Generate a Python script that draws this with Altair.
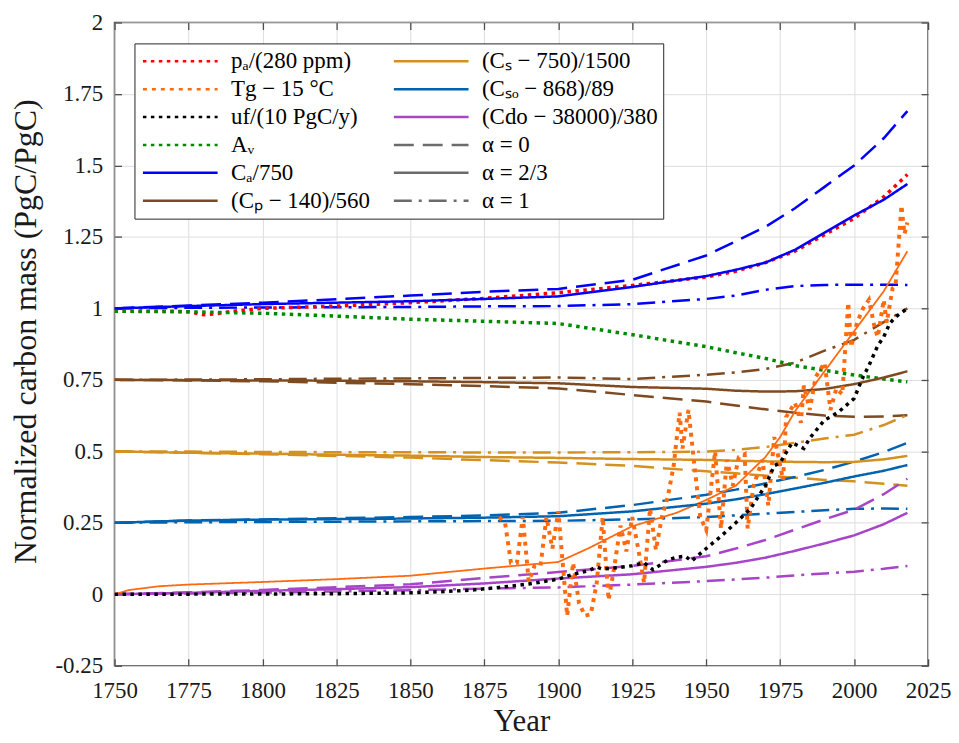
import altair as alt
import pandas as pd

# ---------------- data ----------------
model_years = [1750, 1775, 1800, 1825, 1850, 1875, 1900, 1925, 1950, 1960, 1970, 1980, 1990, 2000, 2010, 2018]

Ca_a0 = [1.0, 1.01, 1.02, 1.032, 1.045, 1.058, 1.068, 1.10, 1.185, 1.235, 1.285, 1.35, 1.425, 1.50, 1.595, 1.69]
Ca_a23 = [1.0, 1.008, 1.015, 1.02, 1.025, 1.033, 1.042, 1.075, 1.113, 1.135, 1.16, 1.205, 1.265, 1.325, 1.38, 1.435]
Ca_a1 = [1.0, 1.002, 1.003, 1.004, 1.005, 1.007, 1.008, 1.015, 1.033, 1.045, 1.065, 1.078, 1.082, 1.083, 1.083, 1.082]
Cp_a0 = [0.75, 0.748, 0.745, 0.74, 0.735, 0.728, 0.72, 0.697, 0.674, 0.66, 0.647, 0.635, 0.625, 0.621, 0.622, 0.626]
Cp_a23 = [0.75, 0.749, 0.748, 0.747, 0.745, 0.742, 0.738, 0.725, 0.719, 0.712, 0.709, 0.71, 0.718, 0.735, 0.758, 0.78]
Cp_a1 = [0.75, 0.751, 0.752, 0.754, 0.755, 0.757, 0.758, 0.753, 0.768, 0.776, 0.788, 0.81, 0.852, 0.89, 0.952, 1.0]
Cs_a0 = [0.5, 0.495, 0.49, 0.484, 0.478, 0.469, 0.461, 0.449, 0.43, 0.423, 0.415, 0.408, 0.40, 0.395, 0.387, 0.38]
Cs_a23 = [0.5, 0.495, 0.492, 0.488, 0.485, 0.48, 0.477, 0.473, 0.47, 0.467, 0.465, 0.463, 0.462, 0.463, 0.472, 0.484]
Cs_a1 = [0.5, 0.499, 0.498, 0.497, 0.497, 0.496, 0.496, 0.497, 0.499, 0.505, 0.515, 0.53, 0.545, 0.558, 0.592, 0.627]
Cso_a0 = [0.25, 0.258, 0.262, 0.266, 0.27, 0.276, 0.285, 0.312, 0.348, 0.366, 0.388, 0.41, 0.435, 0.464, 0.497, 0.53]
Cso_a23 = [0.25, 0.258, 0.261, 0.263, 0.265, 0.268, 0.273, 0.29, 0.317, 0.332, 0.35, 0.37, 0.39, 0.412, 0.432, 0.452]
Cso_a1 = [0.25, 0.252, 0.253, 0.254, 0.255, 0.256, 0.257, 0.262, 0.27, 0.276, 0.282, 0.288, 0.294, 0.299, 0.30, 0.299]
Cdo_a0 = [0.0, 0.007, 0.015, 0.025, 0.035, 0.057, 0.078, 0.099, 0.133, 0.16, 0.19, 0.226, 0.262, 0.296, 0.35, 0.404]
Cdo_a23 = [0.0, 0.005, 0.012, 0.018, 0.025, 0.038, 0.055, 0.07, 0.096, 0.11, 0.128, 0.152, 0.178, 0.206, 0.245, 0.285]
Cdo_a1 = [0.0, 0.003, 0.006, 0.01, 0.014, 0.02, 0.024, 0.034, 0.046, 0.052, 0.058, 0.066, 0.073, 0.079, 0.089, 0.099]

Av_vals = [0.99, 0.988, 0.983, 0.973, 0.962, 0.955, 0.947, 0.908, 0.866, 0.845, 0.825, 0.80, 0.783, 0.767, 0.753, 0.743]

pa_years = [1750, 1770, 1775, 1780, 1785, 1790, 1800, 1825, 1850, 1875, 1900, 1925, 1950, 1960, 1970, 1980, 1990, 2000, 2010, 2018]
pa_vals = [0.99, 0.99, 0.988, 0.978, 0.982, 0.99, 1.0, 1.008, 1.02, 1.035, 1.055, 1.08, 1.11, 1.13, 1.16, 1.2, 1.258, 1.315, 1.39, 1.468]

Tg_smooth_years = [1750, 1755, 1765, 1775, 1800, 1825, 1850, 1875, 1900, 1910, 1925, 1940, 1950, 1960, 1970, 1975, 1980, 1990, 2000, 2010, 2018]
Tg_smooth_vals = [0.0, 0.015, 0.028, 0.034, 0.043, 0.053, 0.065, 0.09, 0.113, 0.16, 0.238, 0.285, 0.33, 0.38, 0.48, 0.55, 0.64, 0.78, 0.92, 1.06, 1.2]

Tg_years = [1880, 1882, 1884, 1886, 1888, 1890, 1892, 1894, 1896, 1898, 1900, 1903, 1905, 1907, 1909, 1911,
            1913, 1915, 1917, 1919, 1921, 1923, 1925, 1927, 1929, 1931, 1933, 1935, 1937, 1939, 1941, 1942,
            1944, 1946, 1948, 1950, 1953, 1955, 1957, 1959, 1961, 1963, 1964, 1966, 1969, 1971, 1973, 1976,
            1977, 1980, 1982, 1983, 1985, 1987, 1990, 1992, 1994, 1996, 1998, 1999, 2001, 2003, 2005, 2007,
            2008, 2010, 2011, 2013, 2014, 2016, 2017, 2018]
Tg_vals = [0.27, 0.25, 0.11, 0.11, 0.27, 0.045, 0.10, 0.10, 0.27, 0.16, 0.29, -0.075, 0.11, -0.03, -0.075, -0.07,
           0.04, 0.27, -0.02, 0.10, 0.24, 0.15, 0.27, 0.16, 0.04, 0.30, 0.155, 0.27, 0.34, 0.45, 0.635, 0.51,
           0.645, 0.45, 0.27, 0.225, 0.50, 0.23, 0.47, 0.38, 0.48, 0.49, 0.23, 0.38, 0.47, 0.31, 0.55, 0.40,
           0.62, 0.67, 0.60, 0.73, 0.645, 0.76, 0.81, 0.645, 0.72, 0.70, 1.02, 0.865, 0.95, 1.0, 1.03, 0.93,
           0.90, 1.03, 0.95, 1.07, 1.08, 1.36, 1.26, 1.30]

uf_years = [1750, 1800, 1825, 1850, 1860, 1870, 1880, 1890, 1900, 1905, 1910, 1913, 1915, 1920, 1925, 1929,
            1932, 1937, 1940, 1943, 1945, 1950, 1955, 1960, 1965, 1970, 1973, 1975, 1979, 1983, 1985, 1990,
            1992, 1995, 2000, 2003, 2005, 2008, 2010, 2012, 2014, 2016, 2018]
uf_vals = [0.0, 0.001, 0.002, 0.005, 0.009, 0.014, 0.024, 0.036, 0.053, 0.07, 0.082, 0.095, 0.088, 0.093, 0.1, 0.11,
           0.086, 0.12, 0.13, 0.133, 0.116, 0.16, 0.203, 0.25, 0.30, 0.38, 0.45, 0.46, 0.53, 0.51, 0.546, 0.61,
           0.62, 0.64, 0.685, 0.76, 0.80, 0.87, 0.90, 0.947, 0.97, 0.985, 1.0]

x_ticks = [1750, 1775, 1800, 1825, 1850, 1875, 1900, 1925, 1950, 1975, 2000, 2025]
y_ticks = [-0.25, 0, 0.25, 0.5, 0.75, 1, 1.25, 1.5, 1.75, 2]

# legend entries (column-major order, 2 columns of 6)
L_pa = "pₐ/(280 ppm)"
L_Tg = "Tg − 15 °C"
L_uf = "uf/(10 PgC/y)"
L_Av = "Aᵥ"
L_Ca = "Cₐ/750"
L_Cp = "(Cₚ − 140)/560"
L_Cs = "(Cₛ − 750)/1500"
L_Cso = "(Cₛₒ − 868)/89"
L_Cdo = "(Cdo − 38000)/380"
L_A0 = "α = 0"
L_A23 = "α = 2/3"
L_A1 = "α = 1"

COL = {L_pa: "#ff0000", L_Tg: "#ff6a10", L_uf: "#000000", L_Av: "#008a00", L_Ca: "#0000ff",
       L_Cp: "#7f4a1f", L_Cs: "#d4911f", L_Cso: "#0063b0", L_Cdo: "#a744c7",
       L_A0: "#6b6b6b", L_A23: "#6b6b6b", L_A1: "#6b6b6b"}
DOT = [3.5, 4.5]
TDOT = [4, 5]
DASH = [20, 9]
DASHDOT = [18, 7, 3, 7]
SOLID = [1, 0]
DSH = {L_pa: DOT, L_Tg: TDOT, L_uf: DOT, L_Av: DOT, L_Ca: SOLID, L_Cp: SOLID, L_Cs: SOLID,
       L_Cso: SOLID, L_Cdo: SOLID, L_A0: DASH, L_A23: SOLID, L_A1: DASHDOT}

legend_order = [L_pa, L_Tg, L_uf, L_Av, L_Ca, L_Cp, L_Cs, L_Cso, L_Cdo, L_A0, L_A23, L_A1]

# ---------------- tables ----------------
rows1 = []
def add1(key, years, vals, w):
    for yv, v in zip(years, vals):
        rows1.append({"key": key, "year": yv, "value": v, "w": w})

add1(L_pa, pa_years, pa_vals, 3.5)
add1(L_Av, model_years, Av_vals, 3.5)
add1(L_Ca, model_years, Ca_a23, 2.5)
add1(L_Cp, model_years, Cp_a23, 2.5)
add1(L_Cs, model_years, Cs_a23, 2.5)
add1(L_Cso, model_years, Cso_a23, 2.5)
add1(L_Cdo, model_years, Cdo_a23, 2.5)
add1(L_Tg, Tg_years, Tg_vals, 4.0)
add1(L_uf, uf_years, uf_vals, 3.5)
df1 = pd.DataFrame(rows1)

rows2 = []
def add2(var, style, years, vals, w):
    for yv, v in zip(years, vals):
        rows2.append({"var": var, "style": style, "year": yv, "value": v, "w": w})

for var, a0, a1 in [("Ca", Ca_a0, Ca_a1), ("Cp", Cp_a0, Cp_a1), ("Cs", Cs_a0, Cs_a1),
                    ("Cso", Cso_a0, Cso_a1), ("Cdo", Cdo_a0, Cdo_a1)]:
    add2(var, "dash", model_years, a0, 2.5)
    add2(var, "dashdot", model_years, a1, 2.5)
add2("Tg", "solid", Tg_smooth_years, Tg_smooth_vals, 1.8)
df2 = pd.DataFrame(rows2)

# ---------------- chart ----------------
FONT = "Liberation Serif"
xs = alt.Scale(domain=[1750, 2025], nice=False, zero=False)
ys = alt.Scale(domain=[-0.25, 2], nice=False, zero=False)

leg = alt.Legend(title=None, orient="none", legendX=20, legendY=21, columns=2, direction="vertical",
                 symbolType="stroke", symbolSize=5625, symbolStrokeWidth=2.5, symbolOffset=2,
                 clipHeight=26, rowPadding=2, columnPadding=20, labelOffset=12,
                 labelFont=FONT, labelFontSize=23, labelColor="#000000", labelLimit=400,
                 padding=5, strokeColor="#262626", fillColor="#ffffff", symbolLimit=0)

main = alt.Chart(df1).mark_line(clip=True).encode(
    x=alt.X("year:Q", scale=xs, axis=alt.Axis(orient="bottom", values=x_ticks, title="Year",
            offset=-7, tickSize=7, domain=False, grid=True, labelPadding=14, titlePadding=4,
            labelFont=FONT, labelFontSize=23, titleFont=FONT, titleFontSize=31,
            labelExpr="'' + datum.value", labelFlush=False, labelOverlap=False)),
    y=alt.Y("value:Q", scale=ys, axis=alt.Axis(orient="left", values=y_ticks,
            title="Normalized carbon mass (PgC/PgC)",
            offset=-7, tickSize=7, domain=False, grid=True, labelPadding=12, titlePadding=12,
            titleY=310,
            labelFont=FONT, labelFontSize=23, titleFont=FONT, titleFontSize=32,
            labelExpr="'' + datum.value", labelFlush=False, labelOverlap=False)),
    color=alt.Color("key:N", scale=alt.Scale(domain=legend_order, range=[COL[k] for k in legend_order]), legend=leg),
    strokeDash=alt.StrokeDash("key:N", scale=alt.Scale(domain=legend_order, range=[DSH[k] for k in legend_order]), legend=leg),
    strokeWidth=alt.StrokeWidth("w:Q", scale=None, legend=None),
)

var_names = ["Ca", "Cp", "Cs", "Cso", "Cdo", "Tg"]
var_cols = [COL[L_Ca], COL[L_Cp], COL[L_Cs], COL[L_Cso], COL[L_Cdo], COL[L_Tg]]

others = alt.Chart(df2).mark_line(clip=True).encode(
    x=alt.X("year:Q", scale=xs, axis=alt.Axis(orient="top", values=x_ticks, title=None, labels=False,
            offset=-7, tickSize=7, domain=False, grid=False)),
    y=alt.Y("value:Q", scale=ys, axis=alt.Axis(orient="right", values=y_ticks, title=None, labels=False,
            offset=-7, tickSize=7, domain=False, grid=False)),
    color=alt.Color("var:N", scale=alt.Scale(domain=var_names, range=var_cols), legend=None),
    strokeDash=alt.StrokeDash("style:N", scale=alt.Scale(domain=["dash", "dashdot", "solid"],
                              range=[DASH, DASHDOT, SOLID]), legend=None),
    strokeWidth=alt.StrokeWidth("w:Q", scale=None, legend=None),
)

chart = alt.layer(others, main).resolve_scale(
    color="independent", strokeDash="independent"
).resolve_axis(
    x="independent", y="independent"
).properties(
    width=817, height=646,
    autosize=alt.AutoSizeParams(type="none"),
    padding={"left": 107, "top": 13, "right": 23, "bottom": 70},
).configure(
    font=FONT
).configure_view(
    stroke="#4d4d4d", strokeWidth=1.6
).configure_axis(
    labelFont=FONT, labelFontSize=23, labelColor="#1a1a1a",
    titleFont=FONT, titleFontWeight="normal", titleColor="#1a1a1a",
    tickColor="#4d4d4d", tickWidth=1.3, gridColor="#dedede", gridWidth=1, gridOpacity=1
).configure_legend(
    labelFont=FONT
)

chart.save("out.html", embed_options={"renderer": "svg", "actions": False})
